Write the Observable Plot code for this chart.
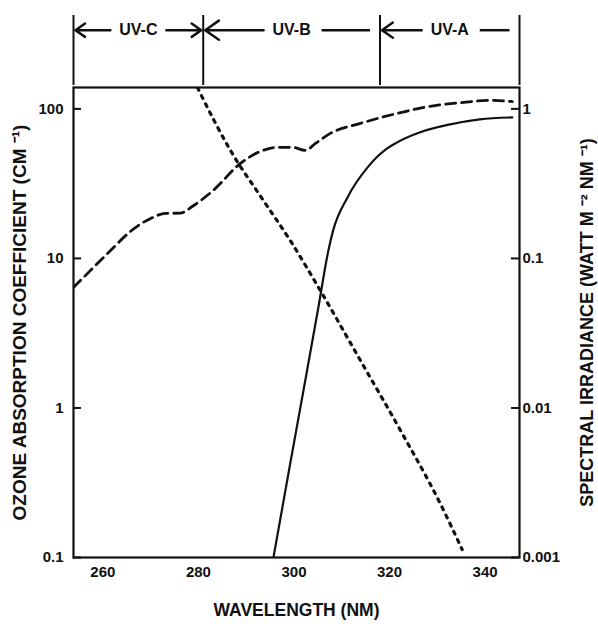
<!DOCTYPE html>
<html><head><meta charset="utf-8">
<script src="https://cdn.jsdelivr.net/npm/d3@7"></script>
<script src="https://cdn.jsdelivr.net/npm/@observablehq/plot@0.6"></script>
<style>
html,body{margin:0;padding:0;background:#fff;overflow:hidden}
#chart svg{display:block}
</style></head><body><div id="chart"></div>
<script>
// ---- data ----
const bandNames = ["UV-C", "UV-B", "UV-A"];
const bandEdges = [253.85, 281, 318, 347.2]; // nm (first/last = plot limits)

const xTicks = [260, 280, 300, 320, 340];
const leftTicks = [0.1, 1, 10, 100];            // ozone absorption coefficient (cm^-1)
const rightTicks = [0.001, 0.01, 0.1, 1];       // spectral irradiance (W m^-2 nm^-1)
const IRR_TO_LEFT = 100;                        // right axis aligned: 1 W/m2/nm = 100 cm^-1

// dotted: ozone absorption coefficient (cm^-1)
const ozoneWavelength = [279.8, 280.4, 286.7, 293.6, 299.2, 305.5, 313.9, 322.3, 330.6, 335.2];
const ozoneAbsorption = [139, 127, 52.8, 24.4, 13.2, 6.11, 2.08, 0.707, 0.230, 0.113];

// dashed: extraterrestrial spectral irradiance (W m^-2 nm^-1)
const toaWavelength = [253.85, 257.4, 261.6, 265.8, 270.0, 273.1, 276.2, 279.0, 283.1, 288.8, 293.0, 296.5, 299.7, 302.4, 304.5, 307.6, 313.9, 321.6, 328.5, 334.8, 341.1, 345.7];
const toaIrradiance = [0.064, 0.083, 0.113, 0.152, 0.185, 0.200, 0.201, 0.226, 0.285, 0.432, 0.520, 0.553, 0.553, 0.528, 0.588, 0.686, 0.800, 0.933, 1.04, 1.10, 1.14, 1.12];

// solid: surface spectral irradiance (W m^-2 nm^-1)
const surfaceWavelength = [295.7, 299.25, 302.4, 305.1, 307.2, 308.2, 311.2, 315.4, 319.5, 321.6, 326.4, 332.7, 338.9, 345.7];
const surfaceIrradiance = [0.001, 0.00432, 0.0155, 0.047, 0.113, 0.154, 0.256, 0.406, 0.544, 0.597, 0.697, 0.788, 0.851, 0.877];

// ---- layout ----
const W = 598, ML = 73, MR = 79;
const font = "'Liberation Sans', Arial, Helvetica, sans-serif";
const ink = "#111";
const xDomain = [bandEdges[0], bandEdges[bandEdges.length - 1]];
const frameW = W - ML - MR;
const pxPerNm = frameW / (xDomain[1] - xDomain[0]);
const nm = px => px / pxPerNm;

const rows = (xs, ys, k = 1) => xs.map((x, i) => ({x, y: ys[i] * k}));
const bandRows = bandNames.map((name, i) => ({
  name, start: bandEdges[i], end: bandEdges[i + 1], mid: (bandEdges[i] + bandEdges[i + 1]) / 2
}));

const style = {fontFamily: font, fontWeight: "bold", fontSize: "15px", color: ink, background: "white"};

const band = Plot.plot({
  width: W, height: 85, marginTop: 15, marginBottom: 0, marginLeft: ML, marginRight: MR,
  style,
  x: {domain: xDomain, axis: null},
  y: {domain: [0, 1], axis: null},
  marks: [
    Plot.ruleX(bandEdges, {x: d => d, y1: 0, y2: 1, stroke: ink, strokeWidth: 2}),
    Plot.text(bandRows, {x: "mid", y: 0.79, text: "name", fontSize: 16, fill: ink}),
    Plot.arrow(bandRows, {x1: d => d.mid - nm(28), x2: d => d.start + nm(2), y1: 0.79, y2: 0.79,
      stroke: ink, strokeWidth: 2.5, headLength: 10, headAngle: 70}),
    Plot.arrow(bandRows.slice(0, 1), {x1: d => d.mid + nm(28), x2: d => d.end - nm(2), y1: 0.79, y2: 0.79,
      stroke: ink, strokeWidth: 2.5, headLength: 10, headAngle: 70}),
    Plot.link(bandRows.slice(1), {x1: d => d.mid + nm(30), x2: d => d.end - nm(10), y1: 0.79, y2: 0.79,
      stroke: ink, strokeWidth: 2.5})
  ]
});

const main = Plot.plot({
  width: W, height: 539, marginTop: 2, marginBottom: 67, marginLeft: ML, marginRight: MR,
  style,
  x: {domain: xDomain},
  y: {type: "log", domain: [0.1, 139]},
  marks: [
    Plot.line(rows(ozoneWavelength, ozoneAbsorption), {x: "x", y: "y", stroke: ink, strokeWidth: 3.2,
      strokeDasharray: "3 6", curve: "monotone-x", clip: true}),
    Plot.line(rows(toaWavelength, toaIrradiance, IRR_TO_LEFT), {x: "x", y: "y", stroke: ink, strokeWidth: 2.8,
      strokeDasharray: "10 6", curve: "monotone-x", clip: true}),
    Plot.line(rows(surfaceWavelength, surfaceIrradiance, IRR_TO_LEFT), {x: "x", y: "y", stroke: ink, strokeWidth: 2.2,
      curve: "monotone-x", clip: true}),
    Plot.ruleY(leftTicks, {y: d => d, insetRight: frameW - 8, stroke: ink, strokeWidth: 2}),
    Plot.ruleY(rightTicks.map(v => v * IRR_TO_LEFT), {y: d => d, insetLeft: frameW - 8, stroke: ink, strokeWidth: 2}),
    Plot.frame({stroke: ink, strokeWidth: 2.2}),
    // tick labels
    Plot.axisX({ticks: xTicks, tickSize: 0, tickPadding: 9, tickFormat: d => String(d), label: null}),
    Plot.axisY({anchor: "left", ticks: leftTicks, tickSize: 0, tickPadding: 10, tickFormat: d => String(d), label: null}),
    Plot.axisY({anchor: "right", ticks: rightTicks.map(v => v * IRR_TO_LEFT), tickSize: 0, tickPadding: 3,
      tickFormat: d => String(+(d / IRR_TO_LEFT).toPrecision(1)), label: null}),
    // axis titles
    Plot.axisX({ticks: [], tickSize: 0, fontSize: 17.5,
      label: "WAVELENGTH (NM)", labelAnchor: "center", labelOffset: 58, labelArrow: "none"}),
    Plot.axisY({anchor: "left", ticks: [], tickSize: 0, fontSize: 19,
      label: "OZONE ABSORPTION COEFFICIENT (CM \u207B\u00B9)", labelAnchor: "center", labelOffset: 61, labelArrow: "none"}),
    Plot.axisY({anchor: "right", ticks: [], tickSize: 0, fontSize: 18,
      label: "SPECTRAL IRRADIANCE (WATT M \u207B\u00B2 NM \u207B\u00B9)", labelAnchor: "center", labelOffset: 73, labelArrow: "none"})
  ]
});

document.getElementById("chart").append(band, main);
</script>
</body></html>
